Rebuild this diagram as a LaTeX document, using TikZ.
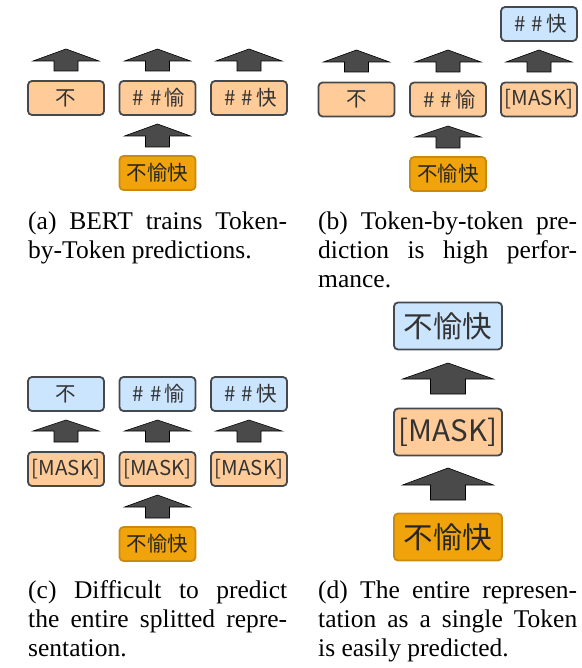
\documentclass[tikz,border=0pt]{standalone}
\usepackage{fontspec}
\setmainfont{Liberation Serif}
\newfontfamily\cjk{Noto Sans CJK JP}
\usetikzlibrary{calc}

\definecolor{boxline}{HTML}{45484C}
\definecolor{maskfill}{HTML}{FFCC99}
\definecolor{outfill}{HTML}{CCE5FF}
\definecolor{srcfill}{HTML}{F0A30A}
\definecolor{srcline}{HTML}{C98A10}
\definecolor{tokentext}{HTML}{333333}
\definecolor{arrowfill}{HTML}{4A4A4A}

% full-width style hash marks for sub-word prefixes
\newcommand\hh{\makebox[0.85em]{\#}\makebox[0.85em]{\#}}

% upward block arrow centred on the x of node #1
% #2 tip y, #3 wing y, #4 stem bottom y, #5 half head width, #6 half stem width
\newcommand\blockup[6]{%
  \draw[blockarrow] let \p0=(#1.center) in
    (\x0,#2) -- (\x0+#5pt,#3) -- (\x0+#6pt,#3) -- (\x0+#6pt,#4)
    -- (\x0-#6pt,#4) -- (\x0-#6pt,#3) -- (\x0-#5pt,#3) -- cycle;}

\begin{document}
\begin{tikzpicture}[x=1pt,y=-1pt,
  tok/.style={draw=boxline, line width=1.8pt, rounded corners=4pt, inner sep=0pt,
    minimum width=76pt, minimum height=34pt, text=tokentext,
    font=\cjk\fontsize{20.5}{20.5}\selectfont},
  masktok/.style={tok, fill=maskfill},
  outtok/.style={tok, fill=outfill},
  srctok/.style={tok, fill=srcfill, draw=srcline, text=black!85},
  bigtok/.style={minimum width=108pt, minimum height=47pt,
    font=\cjk\fontsize{29.5}{29.5}\selectfont},
  blockarrow/.style={fill=arrowfill, draw=black, line width=0.6pt, line join=miter},
  capline/.style={anchor=base west, inner sep=0pt,
    font=\fontsize{25.5}{29}\selectfont}]

\useasboundingbox (0,0) rectangle (581,668);

% ---------- (a) ----------
\node[masktok] (a1) at (66,98) {不};
\node[masktok] (a2) at (157.5,98) {\hh 愉};
\node[masktok] (a3) at (249,98) {\hh 快};
\node[srctok]  (a0) at (157.5,173) {不愉快};
\blockup{a1}{49}{61}{71}{33}{12}
\blockup{a2}{49}{61}{71}{33}{12}
\blockup{a3}{49}{61}{71}{33}{12}
\blockup{a0}{124}{136}{147}{33}{12}

\node[capline] (capa1) at (28,229) {\makebox[259pt][s]{(a) BERT trains Token-}};
\node[capline] (capa2) at (28,258) {by-Token predictions.};

% ---------- (b) ----------
\node[masktok] (b1) at (356.5,99.5) {不};
\node[masktok] (b2) at (448,99.5) {\hh 愉};
\node[masktok] (b3) at (539,99.5) {[MASK]};
\node[outtok]  (b4) at (539,24) {\hh 快};
\node[srctok]  (b0) at (448,174) {不愉快};
\blockup{b1}{50}{62}{72}{33}{12}
\blockup{b2}{50}{62}{72}{33}{12}
\blockup{b3}{50}{62}{72}{33}{12}
\blockup{b0}{126}{137}{148}{33}{12}

\node[capline] (capb1) at (318,229) {\makebox[259pt][s]{(b) Token-by-token pre-}};
\node[capline] (capb2) at (318,258) {\makebox[259pt][s]{diction is high perfor-}};
\node[capline] (capb3) at (318,287) {mance.};

% ---------- (c) ----------
\node[outtok]  (c4) at (66,394) {不};
\node[outtok]  (c5) at (157.5,394) {\hh 愉};
\node[outtok]  (c6) at (249,394) {\hh 快};
\node[masktok] (c1) at (66,469) {[MASK]};
\node[masktok] (c2) at (157.5,469) {[MASK]};
\node[masktok] (c3) at (249,469) {[MASK]};
\node[srctok]  (c0) at (157.5,544) {不愉快};
\blockup{c1}{420}{431}{442}{33}{12}
\blockup{c2}{420}{431}{442}{33}{12}
\blockup{c3}{420}{431}{442}{33}{12}
\blockup{c0}{495}{507}{518}{33}{12}

\node[capline] (capc1) at (28,598) {\makebox[259pt][s]{(c) Difficult to predict}};
\node[capline] (capc2) at (28,627) {\makebox[259pt][s]{the entire splitted repre-}};
\node[capline] (capc3) at (28,656) {sentation.};

% ---------- (d) ----------
\node[outtok, bigtok]  (d2) at (448,326) {不愉快};
\node[masktok, bigtok] (d1) at (448,432) {[MASK]};
\node[srctok, bigtok]  (d0) at (448,537) {不愉快};
\blockup{d1}{363}{379}{394}{45.5}{17.5}
\blockup{d0}{468}{485}{500}{45.5}{17.5}

\node[capline] (capd1) at (318,598) {\makebox[259pt][s]{(d) The entire represen-}};
\node[capline] (capd2) at (318,627) {\makebox[259pt][s]{tation as a single Token}};
\node[capline] (capd3) at (318,656) {is easily predicted.};

\end{tikzpicture}
\end{document}
